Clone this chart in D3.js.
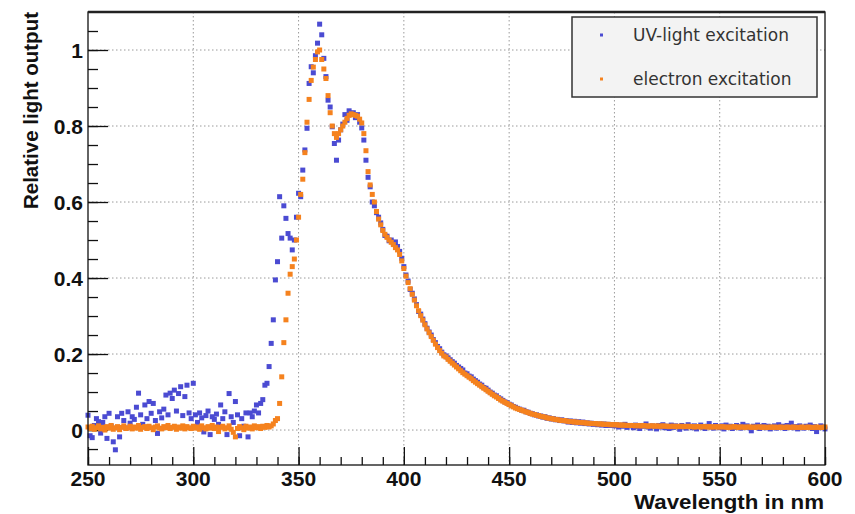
<!DOCTYPE html>
<html>
<head>
<meta charset="utf-8">
<script src="https://cdnjs.cloudflare.com/ajax/libs/d3/7.8.5/d3.min.js"></script>
<style>
  body { margin: 0; background: #fff; }
  text { font-family: "Liberation Sans", Arial, sans-serif; }
  .tick-label { font-size: 21px; font-weight: bold; fill: #111; }
  .axis-title { font-size: 20.5px; font-weight: bold; fill: #111; }
  .legend-text { font-family: "DejaVu Sans", sans-serif; font-size: 17px; fill: #333; }
</style>
</head>
<body>
<div id="chart"></div>
<script>
// wavelength grid of the measurements, 1 nm steps
var wavelengths = d3.range(250, 601, 1);

// relative light output, UV-light excitation (250..600 nm)
var uvLight = [
  0.039, -0.015, -0.020, 0.012, 0.030, 0.022, -0.008, 0.020, 0.035, -0.022,
  0.044, 0.010, -0.031, -0.052, 0.035, -0.018, 0.044, 0.025, 0.005, 0.048,
  0.018, 0.035, 0.028, 0.060, 0.097, 0.040, 0.015, 0.066, 0.030, 0.075,
  0.044, 0.070, 0.025, -0.009, 0.048, 0.032, 0.055, 0.092, 0.040, 0.097,
  0.083, 0.105, 0.050, 0.096, 0.114, 0.038, 0.088, 0.118, 0.045, 0.030,
  0.123, 0.040, 0.020, 0.045, 0.032, -0.005, 0.038, 0.050, -0.012, 0.035,
  0.028, 0.042, 0.015, 0.066, 0.030, 0.048, -0.012, 0.096, 0.035, 0.020,
  0.075, 0.040, -0.015, 0.030, 0.010, 0.045, -0.018, 0.045, 0.035, 0.050,
  0.066, 0.045, 0.070, 0.080, 0.118, 0.123, 0.167, 0.228, 0.290, 0.395,
  0.443, 0.614, 0.505, 0.590, 0.557, 0.517, 0.505, 0.474, 0.500, 0.560,
  0.623, 0.614, 0.684, 0.737, 0.794, 0.912, 0.956, 0.940, 0.985, 1.018,
  1.068, 1.040, 0.978, 0.930, 0.868, 0.850, 0.798, 0.754, 0.710, 0.763,
  0.790, 0.805, 0.830, 0.815, 0.840, 0.830, 0.835, 0.822, 0.830, 0.810,
  0.795, 0.763, 0.710, 0.665, 0.640, 0.600, 0.590, 0.572, 0.560, 0.545,
  0.528, 0.512, 0.510, 0.498, 0.500, 0.492, 0.495, 0.483, 0.470, 0.452,
  0.430, 0.408, 0.392, 0.370, 0.360, 0.345, 0.330, 0.312, 0.305, 0.292,
  0.280, 0.268, 0.258, 0.250, 0.238, 0.230, 0.220, 0.214, 0.205, 0.198,
  0.195, 0.190, 0.185, 0.180, 0.176, 0.170, 0.166, 0.162, 0.158, 0.150,
  0.148, 0.142, 0.140, 0.134, 0.130, 0.126, 0.121, 0.118, 0.112, 0.110,
  0.105, 0.100, 0.097, 0.092, 0.090, 0.085, 0.082, 0.078, 0.074, 0.072,
  0.068, 0.066, 0.062, 0.060, 0.057, 0.055, 0.052, 0.052, 0.048, 0.047,
  0.044, 0.043, 0.040, 0.040, 0.037, 0.037, 0.034, 0.035, 0.031, 0.032,
  0.029, 0.030, 0.027, 0.028, 0.025, 0.027, 0.024, 0.025, 0.021, 0.024,
  0.020, 0.023, 0.019, 0.022, 0.018, 0.021, 0.017, 0.019, 0.016, 0.018,
  0.015, 0.017, 0.014, 0.016, 0.013, 0.016, 0.012, 0.015, 0.012, 0.014,
  0.011, 0.014, 0.008, 0.013, 0.010, 0.015, 0.007, 0.012, 0.011, 0.006,
  0.013, 0.009, 0.004, 0.012, 0.010, 0.016, 0.008, 0.005, 0.011, 0.009,
  0.003, 0.012, 0.008, 0.014, 0.006, 0.010, 0.004, 0.013, 0.007, 0.011,
  0.009, 0.002, 0.012, 0.008, 0.005, 0.014, 0.010, 0.006, 0.011, 0.003,
  0.009, 0.013, 0.007, 0.004, 0.010, 0.017, 0.008, 0.005, 0.012, 0.009,
  0.006, 0.011, 0.003, 0.013, 0.008, 0.010, 0.004, 0.007, 0.012, 0.009,
  0.005, 0.015, 0.008, 0.011, 0.006, -0.002, 0.010, 0.007, 0.013, 0.004,
  0.009, 0.012, 0.006, 0.010, 0.003, 0.008, 0.011, 0.005, 0.014, 0.007,
  0.010, 0.004, 0.012, 0.008, 0.018, 0.006, 0.009, 0.003, 0.011, 0.007,
  0.005, 0.010, 0.008, 0.013, 0.004, 0.009, -0.004, 0.006, 0.011, 0.008,
  0.003
];

// relative light output, electron excitation (250..600 nm)
var electron = [
  0.008, 0.004, 0.010, 0.002, 0.006, 0.011, 0.003, 0.007, 0.000, 0.009,
  0.005, 0.012, 0.002, 0.006, 0.009, 0.001, 0.007, 0.011, 0.004, 0.006,
  0.010, 0.003, 0.008, 0.005, 0.012, 0.002, 0.007, 0.009, 0.004, 0.010,
  0.006, 0.001, 0.008, 0.011, 0.005, 0.003, 0.009, 0.006, 0.012, 0.004,
  0.007, 0.010, 0.002, 0.008, 0.005, 0.011, 0.003, 0.009, 0.006, 0.004,
  0.010, 0.005, 0.008, 0.002, 0.011, 0.006, 0.003, 0.009, 0.005, 0.012,
  0.004, 0.008, -0.004, 0.007, 0.010, 0.003, 0.006, 0.011, 0.002, -0.006,
  -0.018, 0.004, 0.009, 0.006, 0.001, 0.010, 0.005, 0.008, 0.003, 0.011,
  0.006, 0.009, 0.004, 0.010, 0.007, 0.012, 0.008, 0.011, 0.016, 0.025,
  0.030, 0.070, 0.140, 0.230, 0.290, 0.360, 0.410, 0.430, 0.450, 0.500,
  0.560, 0.620, 0.660, 0.730, 0.810, 0.870, 0.920, 0.955, 0.975, 0.995,
  1.000, 0.975, 0.950, 0.925, 0.880, 0.835, 0.800, 0.780, 0.770, 0.780,
  0.790, 0.800, 0.810, 0.820, 0.828, 0.832, 0.830, 0.828, 0.826, 0.818,
  0.808, 0.780, 0.735, 0.680, 0.645, 0.620, 0.600, 0.575, 0.555, 0.540,
  0.525, 0.515, 0.507, 0.500, 0.494, 0.488, 0.480, 0.474, 0.462, 0.445,
  0.425, 0.405, 0.388, 0.372, 0.357, 0.342, 0.327, 0.314, 0.301, 0.289,
  0.277, 0.266, 0.256, 0.246, 0.236, 0.226, 0.217, 0.209, 0.202, 0.195,
  0.192, 0.186, 0.181, 0.176, 0.171, 0.166, 0.161, 0.156, 0.151, 0.147,
  0.143, 0.139, 0.135, 0.130, 0.126, 0.122, 0.118, 0.114, 0.110, 0.106,
  0.102, 0.098, 0.094, 0.090, 0.087, 0.083, 0.079, 0.076, 0.073, 0.070,
  0.067, 0.064, 0.061, 0.058, 0.056, 0.054, 0.052, 0.050, 0.048, 0.046,
  0.044, 0.042, 0.041, 0.039, 0.038, 0.036, 0.035, 0.034, 0.032, 0.031,
  0.030, 0.029, 0.028, 0.027, 0.026, 0.025, 0.025, 0.024, 0.023, 0.022,
  0.022, 0.021, 0.021, 0.020, 0.020, 0.019, 0.019, 0.018, 0.018, 0.017,
  0.017, 0.017, 0.016, 0.016, 0.016, 0.015, 0.015, 0.015, 0.014, 0.014,
  0.014, 0.014, 0.013, 0.013, 0.013, 0.013, 0.012, 0.012, 0.012, 0.012,
  0.011, 0.012, 0.011, 0.011, 0.012, 0.011, 0.010, 0.011, 0.011, 0.010,
  0.011, 0.010, 0.010, 0.011, 0.010, 0.010, 0.009, 0.010, 0.010, 0.009,
  0.010, 0.009, 0.010, 0.009, 0.009, 0.010, 0.009, 0.009, 0.008, 0.009,
  0.009, 0.008, 0.009, 0.009, 0.008, 0.009, 0.008, 0.008, 0.009, 0.008,
  0.008, 0.009, 0.008, 0.008, 0.007, 0.008, 0.008, 0.009, 0.008, 0.007,
  0.008, 0.008, 0.007, 0.008, 0.008, 0.007, 0.008, 0.007, 0.008, 0.008,
  0.007, 0.008, 0.007, 0.007, 0.008, 0.007, 0.008, 0.007, 0.007, 0.008,
  0.007, 0.007, 0.008, 0.007, 0.007, 0.008, 0.007, 0.007, 0.007, 0.008,
  0.007, 0.007, 0.008, 0.007, 0.007, 0.007, 0.008, 0.007, 0.007, 0.007,
  0.008
];

var xTicks = [250, 300, 350, 400, 450, 500, 550, 600];
var yTicks = [0, 0.2, 0.4, 0.6, 0.8, 1];
var seriesNames = ["UV-light excitation", "electron excitation"];
var seriesColors = ["#4b4bd2", "#f5821e"];

var svgWidth = 855;
var svgHeight = 514;
var margin = { top: 12, right: 30, bottom: 49, left: 88 };
var width = svgWidth - margin.left - margin.right;
var height = svgHeight - margin.top - margin.bottom;

var svg = d3.select("#chart")
  .append("svg")
  .attr("width", svgWidth)
  .attr("height", svgHeight);

svg.append("rect").attr("width", svgWidth).attr("height", svgHeight).attr("fill", "#fff");

var chartGroup = svg.append("g")
  .attr("transform", `translate(${margin.left}, ${margin.top})`);

var x = d3.scaleLinear().domain([250, 600]).range([0, width]);
var y = d3.scaleLinear().domain([-0.092, 1.1]).range([height, 0]);

// grid
chartGroup.append("g").selectAll("line")
  .data(xTicks.slice(1, -1))
  .enter().append("line")
  .attr("x1", d => x(d)).attr("x2", d => x(d))
  .attr("y1", 0).attr("y2", height)
  .attr("stroke", "#9a9a9a").attr("stroke-dasharray", "1.5,2.5");

chartGroup.append("g").selectAll("line")
  .data(yTicks)
  .enter().append("line")
  .attr("x1", 0).attr("x2", width)
  .attr("y1", d => y(d)).attr("y2", d => y(d))
  .attr("stroke", "#9a9a9a").attr("stroke-dasharray", "1.5,2.5");

// axes (ticks drawn inward, ROOT style)
var bottomMajor = d3.axisBottom(x).tickValues(xTicks).tickSize(-18).tickFormat("");
var bottomMinor = d3.axisBottom(x).tickValues(d3.range(250, 601, 10)).tickSize(-8).tickFormat("");
var leftMajor = d3.axisLeft(y).tickValues(yTicks).tickSize(-20).tickFormat("");
var leftMinor = d3.axisLeft(y).tickValues(d3.range(-0.05, 1.06, 0.05)).tickSize(-10).tickFormat("");

[bottomMinor, bottomMajor].forEach(function(ax) {
  chartGroup.append("g").attr("transform", `translate(0, ${height})`).call(ax)
    .call(g => g.selectAll("line").attr("stroke", "#111").attr("stroke-width", 1.3))
    .call(g => g.select(".domain").remove());
});
[leftMinor, leftMajor].forEach(function(ax) {
  chartGroup.append("g").call(ax)
    .call(g => g.selectAll("line").attr("stroke", "#111").attr("stroke-width", 1.3))
    .call(g => g.select(".domain").remove());
});

// tick labels
chartGroup.append("g").selectAll("text")
  .data(xTicks)
  .enter().append("text")
  .attr("class", "tick-label")
  .attr("x", d => x(d))
  .attr("y", height + 21)
  .attr("text-anchor", "middle")
  .text(d => d);

chartGroup.append("g").selectAll("text")
  .data(yTicks)
  .enter().append("text")
  .attr("class", "tick-label")
  .attr("x", -5)
  .attr("y", d => y(d))
  .attr("dy", "0.36em")
  .attr("text-anchor", "end")
  .text(d => d3.format("~g")(d));

// points: UV first, electron on top
var uvData = wavelengths.map((w, i) => ({ w: w, v: uvLight[i] }));
var elData = wavelengths.map((w, i) => ({ w: w, v: electron[i] }));

var ms = 5;
chartGroup.append("g").selectAll("rect")
  .data(uvData)
  .enter().append("rect")
  .attr("x", d => x(d.w) - ms / 2)
  .attr("y", d => y(d.v) - ms / 2)
  .attr("width", ms).attr("height", ms)
  .attr("fill", seriesColors[0]);

chartGroup.append("g").selectAll("rect")
  .data(elData)
  .enter().append("rect")
  .attr("x", d => x(d.w) - ms / 2)
  .attr("y", d => y(d.v) - ms / 2)
  .attr("width", ms).attr("height", ms)
  .attr("fill", seriesColors[1]);

// frame
chartGroup.append("rect")
  .attr("width", width).attr("height", height)
  .attr("fill", "none").attr("stroke", "#111").attr("stroke-width", 1.3);
chartGroup.append("line")
  .attr("x1", 0).attr("x2", width).attr("y1", 0).attr("y2", 0)
  .attr("stroke", "#222").attr("stroke-width", 2.5);

// axis titles
svg.append("text")
  .attr("class", "axis-title")
  .attr("transform", "rotate(-90)")
  .attr("x", -12)
  .attr("y", 38)
  .attr("text-anchor", "end")
  .text("Relative light output");

svg.append("text")
  .attr("class", "axis-title")
  .attr("x", 824)
  .attr("y", 508.5)
  .attr("text-anchor", "end")
  .attr("textLength", 190)
  .attr("lengthAdjust", "spacingAndGlyphs")
  .text("Wavelength in nm");

// legend
var legend = svg.append("g").attr("transform", "translate(572, 17)");
legend.append("rect")
  .attr("width", 245).attr("height", 80)
  .attr("fill", "#f3f3f3").attr("stroke", "#333").attr("stroke-width", 1.5);

seriesNames.forEach(function(name, i) {
  legend.append("rect")
    .attr("x", 28).attr("y", 18 + i * 44 - 1.5)
    .attr("width", 3).attr("height", 3)
    .attr("fill", seriesColors[i]);
  legend.append("text")
    .attr("class", "legend-text")
    .attr("x", 61)
    .attr("y", 18 + i * 44)
    .attr("dy", "0.35em")
    .text(name);
});
</script>
</body>
</html>
